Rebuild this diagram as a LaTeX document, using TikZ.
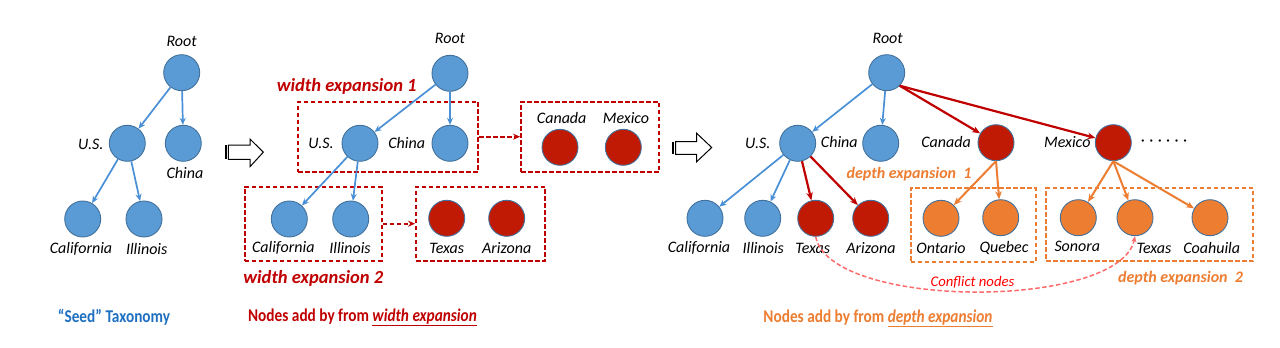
\documentclass[tikz,border=0pt]{standalone}
\usepackage{fontspec}
\setmainfont{Carlito}
\usetikzlibrary{arrows.meta}
\definecolor{blueF}{HTML}{5B9BD5}
\definecolor{blueD}{HTML}{41719C}
\definecolor{blueA}{HTML}{4A90D6}
\definecolor{redF}{HTML}{C01A04}
\definecolor{redA}{HTML}{C00000}
\definecolor{orF}{HTML}{ED7D31}
\definecolor{orA}{HTML}{ED7D31}
\definecolor{confl}{HTML}{FF6B6B}
\definecolor{conflT}{HTML}{FF0000}
\definecolor{seedB}{HTML}{1F70C1}
\tikzset{
  nd/.style={circle, draw=blueD, line width=0.9pt, minimum size=36pt, inner sep=0pt},
  bc/.style={nd, fill=blueF},
  rc/.style={nd, fill=redF},
  oc/.style={nd, fill=orF},
  lab/.style={font=\fontsize{16}{19}\selectfont\itshape, inner sep=0pt, text=black},
  barr/.style={-{Stealth[length=7pt,width=6pt]}, draw=blueA, line width=1.7pt},
  rarr/.style={-{Stealth[length=8pt,width=6.5pt]}, draw=redA, line width=2.2pt},
  oarr/.style={-{Stealth[length=8pt,width=6.5pt]}, draw=orA, line width=2pt},
  rbox/.style={draw=redA, dash pattern=on 4.5pt off 2.5pt, line width=1.9pt, inner sep=0pt},
  obox/.style={draw=orA, dash pattern=on 4.5pt off 2.5pt, line width=1.9pt, inner sep=0pt},
  rdash/.style={-{Stealth[length=7pt,width=6pt]}, draw=redA, dash pattern=on 4.5pt off 2.5pt, line width=1.9pt},
  hollow/.style={draw=black, line width=1pt, fill=white},
  wlab/.style={font=\fontsize{18.5}{22}\selectfont\bfseries\itshape, text=redA, inner sep=0pt},
  dlab/.style={font=\fontsize{16}{19}\selectfont\bfseries\itshape, text=orA, inner sep=0pt},
  title/.style={font=\fontsize{18}{22}\selectfont\bfseries, inner sep=0pt}
}
\newcommand{\narrowtext}[1]{\scalebox{0.85}[1]{#1}}
\begin{document}
\begin{tikzpicture}[x=1pt,y=-1pt]
\useasboundingbox (0,0) rectangle (1280,348);
\fill[white] (0,0) rectangle (1280,348);

% ---------- Left panel: seed taxonomy ----------
\node[bc] (rootL) at (181.7,72.7) {};
\node[lab] (rootLl) at (181.7,41.7) {Root};
\node[bc] (usL) at (127.3,143.3) {};
\node[lab] (usLl) at (90.7,144) {U.S.};
\node[bc] (chL) at (183.3,143.3) {};
\node[lab] (chLl) at (185,173.3) {China};
\node[bc] (caL) at (82.7,219) {};
\node[lab] (caLl) at (81,248.7) {California};
\node[bc] (ilL) at (144,219) {};
\node[lab] (ilLl) at (146.7,248.7) {Illinois};
\draw[barr] (rootL) -- (usL);
\draw[barr] (rootL) -- (chL);
\draw[barr] (usL) -- (caL);
\draw[barr] (usL) -- (ilL);

% hollow arrow 1
\fill[black] (225,145) rectangle (226.8,159.3);
\draw[hollow] (228.3,145) -- (250,145) -- (250,139) -- (263.3,152.2) -- (250,166.7) -- (250,159.3) -- (228.3,159.3) -- cycle;

% ---------- Middle panel: width expansion ----------
\node[rbox, minimum width=180pt, minimum height=70pt] (box1) at (388.3,136.7) {};
\node[rbox, minimum width=138.3pt, minimum height=70pt] (box2) at (590.2,136.7) {};
\node[rbox, minimum width=136.7pt, minimum height=74pt] (box3) at (313.3,223.7) {};
\node[rbox, minimum width=129pt, minimum height=74pt] (box4) at (480.5,223.7) {};
\node[bc] (rootM) at (450,73.3) {};
\node[lab] (rootMl) at (450,38.3) {Root};
\node[bc] (usM) at (360,143.3) {};
\node[lab] (usMl) at (321,143.3) {U.S.};
\node[bc] (chM) at (450,143.3) {};
\node[lab] (chMl) at (406.7,142.7) {China};
\node[rc] (cnM) at (560,147.3) {};
\node[lab] (cnMl) at (561.7,118.3) {Canada};
\node[rc] (mxM) at (623.3,147.3) {};
\node[lab] (mxMl) at (626,118.3) {Mexico};
\node[bc] (caM) at (289.3,219) {};
\node[lab] (caMl) at (283.3,248.3) {California};
\node[bc] (ilM) at (350.7,219) {};
\node[lab] (ilMl) at (350,248.3) {Illinois};
\node[rc] (txM) at (446.7,218.3) {};
\node[lab] (txMl) at (446.7,248.3) {Texas};
\node[rc] (azM) at (506.7,218.3) {};
\node[lab] (azMl) at (506.7,248.3) {Arizona};
\node[wlab] (we1) at (346.7,86.7) {width expansion 1};
\node[wlab] (we2) at (313.3,278.3) {width expansion 2};
\draw[barr] (rootM) -- (usM);
\draw[barr] (rootM) -- (chM);
\draw[barr] (usM) -- (caM);
\draw[barr] (usM) -- (ilM);
\draw[rdash] (box1.east) -- (box2.west);
\draw[rdash] (box3.east) -- (box4.west);

% hollow arrow 2
\fill[black] (672.3,141.7) rectangle (674.1,154.3);
\draw[hollow] (675.6,141.7) -- (696.7,141.7) -- (696.7,133.3) -- (711.7,147.5) -- (696.7,161.7) -- (696.7,154.3) -- (675.6,154.3) -- cycle;

% ---------- Right panel: depth expansion ----------
\node[obox, minimum width=125.3pt, minimum height=73.4pt] (obox1) at (973.3,225) {};
\node[obox, minimum width=207.3pt, minimum height=72.4pt] (obox2) at (1149.7,224.5) {};
\node[bc] (rootR) at (886.7,72.7) {};
\node[lab] (rootRl) at (887.7,38.3) {Root};
\node[bc] (usR) at (797.7,143.3) {};
\node[lab] (usRl) at (757.7,143.3) {U.S.};
\node[bc] (chR) at (880.7,143.3) {};
\node[lab] (chRl) at (839.3,141.7) {China};
\node[rc] (cnR) at (996,142.7) {};
\node[lab] (cnRl) at (946,141.7) {Canada};
\node[rc] (mxR) at (1113.3,142.7) {};
\node[lab] (mxRl) at (1067.3,141.7) {Mexico};
\node[lab, font=\fontsize{16}{19}\selectfont] (dots) at (1164,142.7) {·\hspace{4.4pt}·\hspace{4.4pt}·\hspace{4.4pt}·\hspace{4.4pt}·\hspace{4.4pt}·};
\node[bc] (caR) at (705,218.3) {};
\node[lab] (caRl) at (699,248.3) {California};
\node[bc] (ilR) at (762.7,218.3) {};
\node[lab] (ilRl) at (763.3,248.3) {Illinois};
\node[rc] (txR) at (815.7,218.3) {};
\node[lab] (txRl) at (812.7,248.3) {Texas};
\node[rc] (azR) at (870.7,218.3) {};
\node[lab] (azRl) at (871,248.3) {Arizona};
\node[oc] (onR) at (941,218.3) {};
\node[lab] (onRl) at (941,248.3) {Ontario};
\node[oc] (qbR) at (1000.7,217.7) {};
\node[lab] (qbRl) at (1004,247.7) {Quebec};
\node[oc] (soR) at (1078.3,217.7) {};
\node[lab] (soRl) at (1077.3,246.7) {Sonora};
\node[oc] (tx2R) at (1135,217.7) {};
\node[lab] (tx2Rl) at (1154,248.3) {Texas};
\node[oc] (coR) at (1210,217.7) {};
\node[lab] (coRl) at (1211.7,248.3) {Coahuila};
\node[dlab] (de1) at (909,174.3) {depth expansion\ \ 1};
\node[dlab] (de2) at (1180.5,277.7) {depth expansion\ \ 2};

\draw[barr] (rootR) -- (usR);
\draw[barr] (rootR) -- (chR);
\draw[rarr] (rootR.-45) -- (cnR);
\draw[rarr] (rootR.-45) -- (mxR);
\draw[barr] (usR) -- (caR);
\draw[barr] (usR) -- (ilR);
\draw[rarr] (usR) -- (txR);
\draw[rarr] (usR) -- (azR);
\draw[oarr] (cnR.south) -- (onR);
\draw[oarr] (cnR.south) -- (qbR);
\draw[oarr] (mxR.south) -- (soR);
\draw[oarr] (mxR.south) -- (tx2R);
\draw[oarr] (mxR.south) -- (coR);

\draw[-{Stealth[length=6pt,width=5pt]}, draw=confl, dash pattern=on 4.5pt off 2.5pt, line width=1.5pt]
  (txR.south) .. controls (830,310) and (1120,310) .. (tx2R.south);
\node[font=\fontsize{14.7}{18}\selectfont\itshape, text=conflT, inner sep=0pt] (confT) at (972.5,282.3) {Conflict nodes};

% ---------- Titles ----------
\node[title, text=seedB] (t1) at (114,317.3) {\narrowtext{“Seed” Taxonomy}};
\node[title, text=redA] (t2) at (362.5,317.3) {\narrowtext{Nodes add by from \underline{\itshape width expansion}}};
\node[title, text=orA] (t3) at (878,318.3) {\narrowtext{Nodes add by from \underline{\itshape depth expansion}}};
\end{tikzpicture}
\end{document}
